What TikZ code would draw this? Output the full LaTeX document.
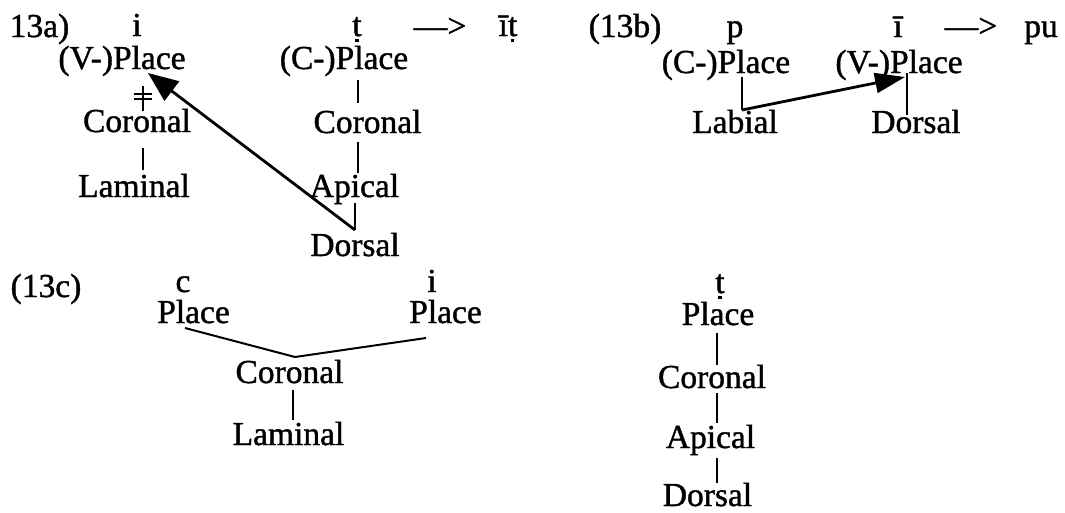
\documentclass[tikz,border=0pt]{standalone}
\usepackage{fontspec}
\setmainfont{Liberation Serif}[FakeBold=1.2]
\usetikzlibrary{arrows.meta}
\newcommand\tdot{\ooalign{t\cr\hidewidth\raisebox{-6pt}{\rule{3.2pt}{3.2pt}}\hidewidth\cr}}
\tikzset{
  lbl/.style={anchor=base, inner sep=0pt, font=\fontsize{33.5}{40}\selectfont},
  br/.style={line width=2pt},
  arr/.style={line width=2.8pt, -{Triangle[length=30pt,width=#1]}},
}
\begin{document}
\begin{tikzpicture}[x=1pt,y=-1pt]
\useasboundingbox (0,0) rectangle (1065,512);
% ---------- 13a ----------
\node[lbl] (lab13a) at (39.5,37) {13a)};
\node[lbl] (ai) at (137,36) {i};
\node[lbl] (aVP) at (122,69) {(V-)Place};
\node[lbl] (aCor) at (137,132) {Coronal};
\node[lbl] (aLam) at (134,197) {Laminal};
\node[lbl] (at) at (357,36) {\tdot};
\node[lbl] (aarr) at (440,37) {—>};
\node[lbl] (aout) at (508,36) {ī\tdot};
\node[lbl] (aCP) at (344,69) {(C-)Place};
\node[lbl] (aCor2) at (367.5,133) {Coronal};
\node[lbl] (aApi) at (354.5,197) {Apical};
\node[lbl] (aDor) at (355,256) {Dorsal};
\draw[br] ([shift={(21,17)}]aVP.base) -- ([shift={(6,-21)}]aCor.base);
\draw[br] ([shift={(-3,-38)}]aCor.base) -- ([shift={(15,-38)}]aCor.base);
\draw[br] ([shift={(-3,-33)}]aCor.base) -- ([shift={(15,-33)}]aCor.base);
\draw[br] ([shift={(6,16)}]aCor.base) -- ([shift={(9,-27)}]aLam.base);
\draw[br] ([shift={(14,11)}]aCP.base) -- ([shift={(-9.5,-30)}]aCor2.base);
\draw[br] ([shift={(-9.5,9)}]aCor2.base) -- ([shift={(3.5,-24)}]aApi.base);
\draw[br] ([shift={(0.5,6)}]aApi.base) -- ([shift={(0,-26)}]aDor.base);
\draw[arr=24pt] ([shift={(0,-26)}]aDor.base) -- ([shift={(26,4)}]aVP.base);
% ---------- 13b ----------
\node[lbl] (lab13b) at (625,37) {(13b)};
\node[lbl] (bp) at (735,37) {p};
\node[lbl] (bi) at (898,37) {ī};
\node[lbl] (barr) at (971,37) {—>};
\node[lbl] (bout) at (1041,37) {pu};
\node[lbl] (bCP) at (726,73) {(C-)Place};
\node[lbl] (bVP) at (899,73) {(V-)Place};
\node[lbl] (bLab) at (735,133) {Labial};
\node[lbl] (bDor) at (916,133) {Dorsal};
\draw[br] ([shift={(16,4)}]bCP.base) -- ([shift={(7,-23)}]bLab.base);
\draw[br] ([shift={(8,0)}]bVP.base) -- ([shift={(-9,-18)}]bDor.base);
\draw[arr=20pt] ([shift={(7,-23)}]bLab.base) -- ([shift={(6,4)}]bVP.base);
% ---------- 13c ----------
\node[lbl] (lab13c) at (46,297) {(13c)};
\node[lbl] (cc) at (183,292) {c};
\node[lbl] (cP1) at (193.5,323) {Place};
\node[lbl] (ci) at (432,292) {i};
\node[lbl] (cP2) at (445.5,323) {Place};
\node[lbl] (cCor) at (289.5,383) {Coronal};
\node[lbl] (cLam) at (288.5,445) {Laminal};
\draw[br] ([shift={(-8.5,5)}]cP1.base) -- ([shift={(5.5,-26)}]cCor.base) -- ([shift={(-19.5,15)}]cP2.base);
\draw[br] ([shift={(3.5,7)}]cCor.base) -- ([shift={(4.5,-25)}]cLam.base);
\node[lbl] (dt) at (720,293) {\tdot};
\node[lbl] (dP) at (718,325) {Place};
\node[lbl] (dCor) at (712,388) {Coronal};
\node[lbl] (dApi) at (710.5,448) {Apical};
\node[lbl] (dDor) at (707.5,506) {Dorsal};
\draw[br] ([shift={(-1,8)}]dP.base) -- ([shift={(5,-23)}]dCor.base);
\draw[br] ([shift={(5,5)}]dCor.base) -- ([shift={(6.5,-25)}]dApi.base);
\draw[br] ([shift={(6.5,10)}]dApi.base) -- ([shift={(9.5,-23)}]dDor.base);
\end{tikzpicture}
\end{document}
